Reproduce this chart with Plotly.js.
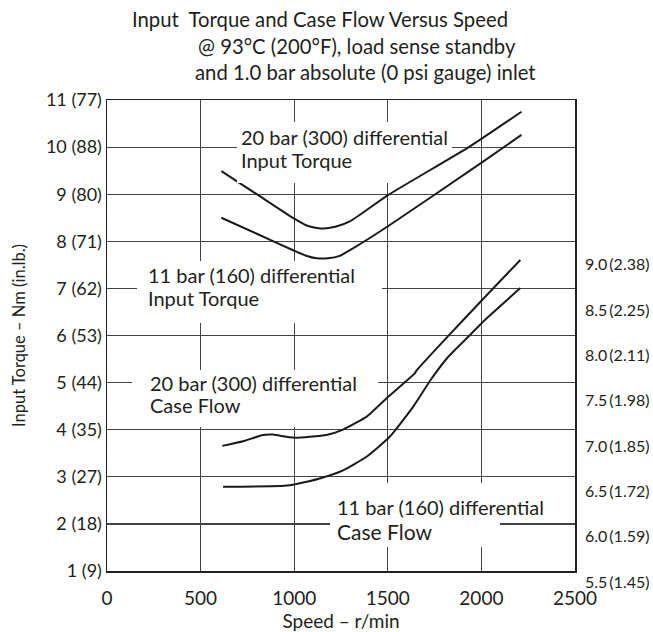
<!DOCTYPE html>
<html>
<head>
<meta charset="utf-8">
<script src="https://cdn.plot.ly/plotly-3.0.1.min.js"></script>
<style>html,body{margin:0;padding:0;background:#fff;}#chart{width:653px;height:632px;}</style>
</head>
<body>
<div id="chart"></div>
<script>
// ---- data ----
const torque20Speed = [611, 800, 1000, 1070, 1145, 1220, 1300, 1501, 1937, 2214];
const torque20Nm    = [9.49, 9.00, 8.48, 8.33, 8.27, 8.31, 8.43, 8.98, 10.01, 10.75];

const torque11Speed = [611, 800, 1000, 1060, 1119, 1180, 1243, 1314, 1501, 2009, 2214];
const torque11Nm    = [8.50, 8.16, 7.80, 7.70, 7.64, 7.64, 7.69, 7.85, 8.32, 9.69, 10.26];

const flow20Speed = [616, 727, 833, 887, 958, 1012, 1083, 1172, 1261, 1386, 1403, 1501, 1644, 1653, 1822, 2009, 2208];
const flow20Lpm   = [6.88, 6.93, 7.00, 7.005, 6.98, 6.97, 6.98, 7.00, 7.06, 7.20, 7.23, 7.42, 7.68, 7.71, 8.09, 8.50, 8.93];

const flow11Speed = [620, 949, 1012, 1136, 1261, 1386, 1510, 1635, 1733, 1822, 1938, 2009, 2208];
const flow11Lpm   = [6.43, 6.44, 6.46, 6.52, 6.61, 6.76, 6.98, 7.31, 7.62, 7.86, 8.10, 8.25, 8.62];

const xTicks = [0, 500, 1000, 1500, 2000, 2500];
const yTickVals = [1, 2, 3, 4, 5, 6, 7, 8, 9, 10, 11];
const yTickText = ["1 (9)", "2 (18)", "3 (27)", "4 (35)", "5 (44)", "6 (53)", "7 (62)", "8 (71)", "9 (80)", "10 (88)", "11 (77)"];
const y2TickVals = [5.5, 6.0, 6.5, 7.0, 7.5, 8.0, 8.5, 9.0];
const y2TickText = ["5.5\u2009(1.45)", "6.0\u2009(1.59)", "6.5\u2009(1.72)", "7.0\u2009(1.85)", "7.5\u2009(1.98)", "8.0\u2009(2.11)", "8.5\u2009(2.25)", "9.0\u2009(2.38)"];

// ---- layout helpers (pixel -> axis coords for label placement) ----
const W = 653, H = 632;
const M = {l: 107, r: 78, t: 100, b: 61};
const PW = W - M.l - M.r, PH = H - M.t - M.b;
const px2x = p => (p - M.l) / PW * 2500;
const py2y = p => 11 - (p - M.t) / PH * 10;
const ink = '#231f20';
const FONT = 'Lato, "Open Sans", sans-serif';

function box(x0, x1, y0, y1) {
  return {type: 'rect', xref: 'x', yref: 'y', layer: 'above',
          x0: px2x(x0), x1: px2x(x1), y0: py2y(y1), y1: py2y(y0),
          fillcolor: '#ffffff', line: {width: 0}};
}
function label(text, xpx, ypx, size) {
  return {text: text, xref: 'x', yref: 'y', x: px2x(xpx), y: py2y(ypx),
          xanchor: 'left', yanchor: 'middle', align: 'left', showarrow: false,
          borderpad: 0,
          font: {family: FONT, size: size || 20, color: ink}};
}

const lineStyle = {color: '#1a1a1a', width: 2, shape: 'spline', smoothing: 0.5};
const traces = [
  {x: torque20Speed, y: torque20Nm, mode: 'lines', line: lineStyle, name: '20 bar torque'},
  {x: torque11Speed, y: torque11Nm, mode: 'lines', line: lineStyle, name: '11 bar torque'},
  {x: flow20Speed, y: flow20Lpm, yaxis: 'y2', mode: 'lines', line: lineStyle, name: '20 bar case flow'},
  {x: flow11Speed, y: flow11Lpm, yaxis: 'y2', mode: 'lines', line: lineStyle, name: '11 bar case flow'}
];

const layout = {
  width: W, height: H,
  margin: M,
  paper_bgcolor: '#fff', plot_bgcolor: '#fff',
  showlegend: false,
  font: {family: FONT, color: ink, size: 18},
  title: {text: 'Input\u00a0 Torque and Case Flow Versus Speed',
          x: 320 / W, xref: 'container', xanchor: 'center',
          y: 1 - 20 / H, yref: 'container', yanchor: 'middle',
          font: {family: FONT, size: 20.3, color: ink}},
  xaxis: {range: [0, 2500], tickvals: xTicks, ticks: '', showgrid: true,
          gridcolor: '#444', gridwidth: 1.2, zeroline: false,
          showline: true, linecolor: ink, linewidth: 1.5, mirror: true,
          ticklabelstandoff: 10,
          tickfont: {family: FONT, size: 19, color: ink},
          title: {text: 'Speed \u2013 r/min', font: {family: FONT, size: 19, color: ink}, standoff: 8}},
  yaxis: {range: [1, 11], tickvals: yTickVals, ticktext: yTickText, ticks: '',
          showgrid: true, gridcolor: '#444', gridwidth: 1.2, zeroline: false,
          showline: true, linecolor: ink, linewidth: 1.5, mirror: true,
          ticklabelstandoff: 0,
          tickfont: {family: FONT, size: 18, color: ink},
          title: {text: 'Input Torque \u2013 Nm (in.lb.)', font: {family: FONT, size: 16.5, color: ink}, standoff: 16}},
  yaxis2: {overlaying: 'y', side: 'right', range: [5.5, 5.5 + PH / 90.67],
           tickvals: y2TickVals, ticktext: y2TickText, ticks: '',
           showgrid: false, showline: false, zeroline: false,
           ticklabelshift: 11, ticklabelstandoff: 9,
           tickfont: {family: FONT, size: 16, color: ink}},
  shapes: [
    box(237, 452, 122, 148),
    box(237, 398, 148, 183),
    box(137, 382, 261, 323),
    box(132, 378, 370, 394),
    box(132, 300, 394, 427),
    box(330, 548, 483, 517),
    box(330, 500, 517, 547)
  ],
  annotations: [
    {text: '@ 93\u00b0C (200\u00b0F), load sense standby', xref: 'paper', yref: 'paper',
     x: (356.5 - M.l) / PW, y: (H - M.b - 46) / PH, xanchor: 'center', yanchor: 'middle',
     showarrow: false, font: {family: FONT, size: 20.3, color: ink}},
    {text: 'and 1.0 bar absolute (0 psi gauge) inlet', xref: 'paper', yref: 'paper',
     x: (365 - M.l) / PW, y: (H - M.b - 72) / PH, xanchor: 'center', yanchor: 'middle',
     showarrow: false, font: {family: FONT, size: 20.3, color: ink}},
    label('20 bar (300) differential', 240, 137),
    label('Input Torque', 240, 160),
    label('11 bar (160) differential', 147, 275),
    label('Input Torque', 147, 298),
    label('20 bar (300) differential', 149, 383),
    label('Case Flow', 149, 405),
    label('11 bar (160) differential', 336, 507),
    label('Case Flow', 336, 531, 21)
  ]
};

Plotly.newPlot('chart', traces, layout, {staticPlot: true, displayModeBar: false});
</script>
</body>
</html>
